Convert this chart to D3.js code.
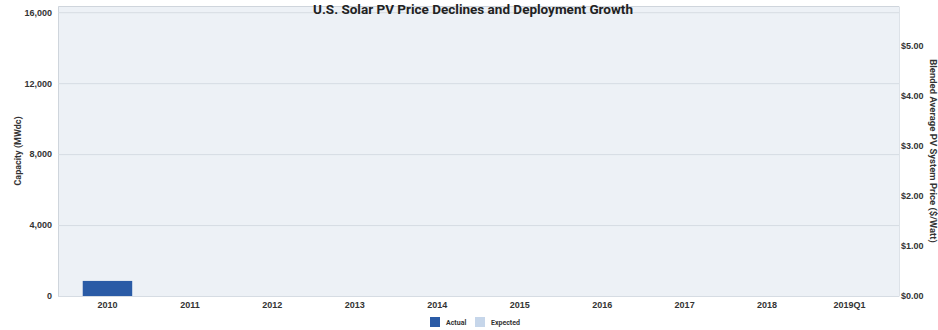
<!DOCTYPE html>
<html><head><meta charset="utf-8">
<script src="https://cdn.jsdelivr.net/npm/d3@7"></script>
<style>body{margin:0;background:#fff}svg{display:block;font-family:Roboto,"Noto Sans",sans-serif}</style>
</head><body><svg id="c" width="938" height="330"></svg>
<script>
const categories = ["2010","2011","2012","2013","2014","2015","2016","2017","2018","2019Q1"];
const actual = [850, null, null, null, null, null, null, null, null, null];
const expected = [null, null, null, null, null, null, null, null, null, null];
const leftTicks = [0, 4000, 8000, 12000, 16000];
const rightTicks = [0, 1, 2, 3, 4, 5];
const legendLabels = ["Actual", "Expected"];

const svg = d3.select("#c");
const L = 58, R = 899, T = 6, B = 296;
const x = d3.scaleBand().domain(categories).range([L, R]).paddingInner(0.4).paddingOuter(0.3);
const y = d3.scaleLinear().domain([0, 16350]).range([B, T]);
const y2 = d3.scaleLinear().domain([0, 5.8]).range([B, T]);

svg.append("rect").attr("x", L).attr("y", T).attr("width", R - L).attr("height", B - T).attr("fill", "#edf1f6");

const gl = svg.append("g").attr("transform", `translate(${L},0)`)
  .call(d3.axisLeft(y).tickValues(leftTicks).tickFormat(d3.format(",")).tickSize(-(R - L)).tickPadding(6));
gl.select(".domain").attr("stroke", "#cfd5dc");
gl.selectAll(".tick line").attr("stroke", "#d6dce3");
gl.selectAll(".tick text").attr("font-size", 9).attr("font-weight", 700).attr("fill", "#333");

const gr = svg.append("g").attr("transform", `translate(${R},0)`)
  .call(d3.axisRight(y2).tickValues(rightTicks).tickFormat(d => "$" + d.toFixed(2)).tickSize(0).tickPadding(2));
gr.select(".domain").attr("stroke", "#dde2e8");
gr.selectAll(".tick text").attr("font-size", 9).attr("font-weight", 700).attr("fill", "#333");

const gx = svg.append("g").attr("transform", `translate(0,${B})`)
  .call(d3.axisBottom(x).tickSize(0).tickPadding(6));
gx.select(".domain").remove();
gx.selectAll(".tick text").attr("font-size", 9).attr("font-weight", 700).attr("fill", "#333");

svg.append("g").selectAll("rect.a").data(categories.map((c, i) => ({c, v: actual[i]})).filter(d => d.v != null))
  .join("rect").attr("x", d => x(d.c)).attr("width", x.bandwidth())
  .attr("y", d => y(d.v)).attr("height", d => y(0) - y(d.v)).attr("fill", "#2a5ba6");
svg.append("g").selectAll("rect.e").data(categories.map((c, i) => ({c, v: expected[i]})).filter(d => d.v != null))
  .join("rect").attr("x", d => x(d.c)).attr("width", x.bandwidth())
  .attr("y", d => y(d.v)).attr("height", d => y(0) - y(d.v)).attr("fill", "#c6d6ea");

svg.append("text").attr("x", 473).attr("y", 14).attr("text-anchor", "middle")
  .attr("font-size", 13.5).attr("font-weight", 700).attr("fill", "#222")
  .text("U.S. Solar PV Price Declines and Deployment Growth");

svg.append("text").attr("transform", "translate(21,151) rotate(-90)").attr("text-anchor", "middle")
  .attr("font-size", 9).attr("font-weight", 700).attr("fill", "#333").text("Capacity (MWdc)");
svg.append("text").attr("transform", "translate(930,151) rotate(90)").attr("text-anchor", "middle")
  .attr("font-size", 9.5).attr("font-weight", 700).attr("fill", "#333").text("Blended Average PV System Price ($/Watt)");

const colors = ["#2a5ba6", "#c6d6ea"];
const lx = [430, 475];
const lg = svg.append("g");
legendLabels.forEach((t, i) => {
  lg.append("rect").attr("x", lx[i]).attr("y", 317).attr("width", 10).attr("height", 10).attr("fill", colors[i]);
  lg.append("text").attr("x", lx[i] + 16).attr("y", 325).attr("font-size", 7).attr("font-weight", 700).attr("fill", "#333").text(t);
});
</script></body></html>
